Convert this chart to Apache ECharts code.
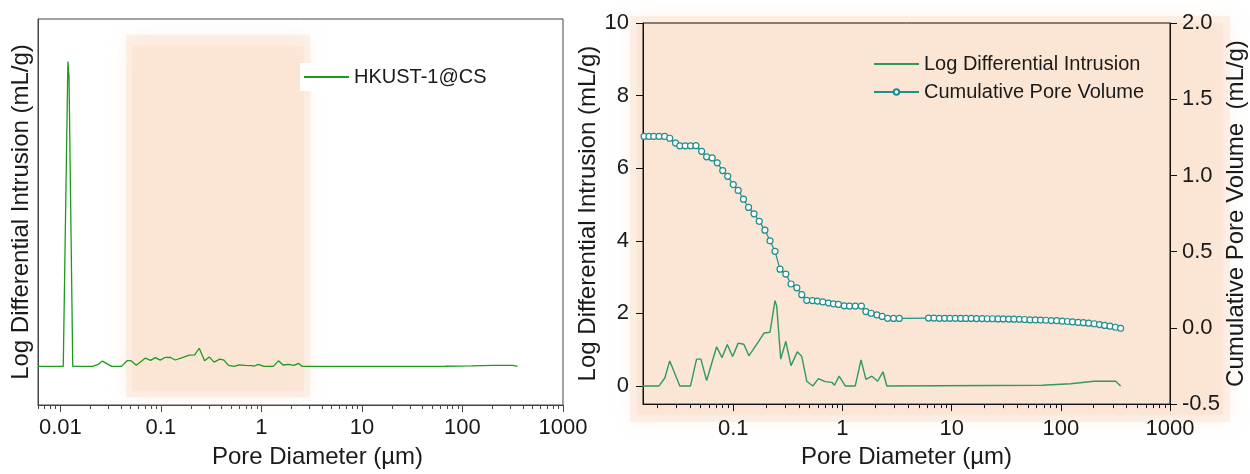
<!DOCTYPE html>
<html><head><meta charset="utf-8">
<script src="https://cdn.jsdelivr.net/npm/echarts@6/dist/echarts.min.js"></script>
<style>html,body{margin:0;padding:0;background:#fff}#c{width:1250px;height:474px}</style>
</head><body><div id="c"></div>
<script>
// Pore diameter (µm) and log differential intrusion (mL/g)
const diameterIntrusion = [0.006, 0.0107, 0.0119, 0.0122, 0.0133, 0.0209, 0.0236, 0.0262, 0.0324, 0.0406,
  0.0461, 0.0505, 0.057, 0.0704, 0.0788, 0.0881, 0.0987, 0.111, 0.125, 0.139,
  0.169, 0.192, 0.217, 0.241, 0.25, 0.272, 0.303, 0.338, 0.386, 0.424,
  0.471, 0.535, 0.602, 0.693, 0.80, 0.845, 0.933, 1.06, 1.31, 1.48,
  1.64, 1.86, 2.1, 2.35, 2.55, 67.4, 123, 201, 318, 353];
const logDiffIntrusion = [0, 0, 39.5, 37.6, 0, 0, 0.22, 0.69, 0, 0,
  0.74, 0.74, 0.15, 1.08, 0.78, 1.14, 0.81, 1.18, 1.15, 0.83,
  1.21, 1.46, 1.48, 2.35, 2.2, 0.74, 1.23, 0.56, 0.94, 0.81,
  0.13, 0, 0.2, 0.12, 0.1, 0.02, 0.27, 0, 0, 0.72,
  0.18, 0.27, 0.13, 0.39, 0, 0.02, 0.06, 0.13, 0.13, 0];

// Pore diameter (µm) and cumulative pore volume (mL/g)
const diameterCumulative = [0.01525, 0.0169, 0.0187, 0.0209, 0.0235, 0.0262, 0.0296, 0.0324, 0.0363, 0.0406,
  0.0455, 0.0513, 0.057, 0.0641, 0.0713, 0.080, 0.0889, 0.1, 0.111, 0.124,
  0.138, 0.155, 0.173, 0.195, 0.217, 0.241, 0.268, 0.303, 0.338, 0.382,
  0.424, 0.471, 0.531, 0.590, 0.661, 0.745, 0.827, 0.918, 1.04, 1.16,
  1.31, 1.49, 1.64, 1.83, 2.07, 2.31, 2.59, 2.94, 3.31,
  6.15, 6.89, 7.71, 8.63, 9.64, 10.8, 12.1, 13.5, 15.1, 16.9,
  19.0, 21.2, 23.7, 26.6, 29.7, 33.3, 37.2, 41.7, 46.6, 52.2,
  58.4, 65.3, 73.1, 81.8, 91.6, 103, 115, 128, 144, 161,
  180, 202, 226, 252, 282, 316, 353];
const cumulativeVolume = [1.256, 1.256, 1.256, 1.256, 1.256, 1.244, 1.212, 1.194, 1.194, 1.194,
  1.195, 1.158, 1.122, 1.115, 1.083, 1.032, 0.994, 0.940, 0.902, 0.844,
  0.790, 0.748, 0.699, 0.641, 0.571, 0.502, 0.385, 0.353, 0.288, 0.263,
  0.218, 0.181, 0.179, 0.176, 0.170, 0.163, 0.158, 0.154, 0.145, 0.143,
  0.143, 0.143, 0.107, 0.096, 0.085, 0.075, 0.063, 0.062, 0.062,
  0.064, 0.064, 0.063, 0.063, 0.063, 0.063, 0.062, 0.062, 0.062, 0.061,
  0.061, 0.060, 0.060, 0.059, 0.059, 0.058, 0.057, 0.056, 0.055, 0.053,
  0.052, 0.051, 0.050, 0.048, 0.047, 0.044, 0.042, 0.039, 0.036, 0.034,
  0.031, 0.027, 0.022, 0.016, 0.011, 0.004, -0.003];

const leftMajorTicks = [0.01, 0.1, 1, 10, 100, 1000];
const rightMajorTicks = [0.1, 1, 10, 100, 1000];
const leftYTicks = [0, 2, 4, 6, 8, 10];
// highlighted pore range (µm), soft-edged: outer, core
const shadeX = [[0.045, 3.05], [0.052, 2.65]];
const shadeY = [[43, -4], [41.5, -3.2]];

function minorTicks(lo, hi) {
  const out = [];
  for (let e = -3; e <= 3; e++) {
    for (let m = 2; m <= 9; m++) {
      const v = +(m * Math.pow(10, e)).toPrecision(3);
      if (v >= lo && v <= hi) out.push(v);
    }
  }
  return out;
}
const leftMinor = minorTicks(0.006, 1000);
const rightMinor = minorTicks(0.0149, 1000);

const FONT = 'Liberation Sans, Arial, sans-serif';
const TXT = '#1a1a1a';
const SHADE_OUTER = 'rgba(251,228,211,0.5)';
const SHADE_CORE = 'rgba(251,228,211,0.7)';
const fmt = v => String(+(+v).toPrecision(3));
const noSymbol = {opacity: 0, borderWidth: 0};

const bgRects = [[630, 16, 600, 406, SHADE_OUTER], [637, 23, 586, 392, SHADE_CORE]];

const chart = echarts.init(document.getElementById('c'), null, {renderer: 'canvas'});
chart.setOption({
  animation: false,
  textStyle: {fontFamily: FONT},
  graphic: bgRects.map(r => ({
    type: 'rect', z: -10, silent: true,
    shape: {x: r[0], y: r[1], width: r[2], height: r[3]},
    style: {fill: r[4], shadowBlur: 18, shadowColor: r[4]}
  })),
  grid: [
    {left: 38, top: 19, width: 525, height: 390, show: true, borderColor: '#444', borderWidth: 1, backgroundColor: 'transparent'},
    {left: 643, top: 23, width: 527, height: 390, show: true, borderColor: '#111', borderWidth: 1, backgroundColor: 'transparent'}
  ],
  legend: [
    {data: [{name: 'HKUST-1@CS', itemStyle: noSymbol}], orient: 'vertical', left: 300, top: 63,
     itemWidth: 45, itemHeight: 7,
     backgroundColor: '#fff', padding: [4, 10, 4, 3], textStyle: {fontSize: 20, color: TXT, fontFamily: FONT}},
    {data: [{name: 'Log Differential Intrusion', itemStyle: noSymbol}, {name: 'Cumulative Pore Volume'}],
     orient: 'vertical', left: 873, top: 54,
     itemGap: 8, itemWidth: 45, itemHeight: 7, padding: 0, textStyle: {fontSize: 20, color: TXT, fontFamily: FONT}}
  ],
  xAxis: [
    {gridIndex: 0, type: 'log', logBase: 10, min: 0.006, max: 1000,
     axisLine: {onZero: false, lineStyle: {color: '#444'}},
     axisTick: {inside: false, length: 7, customValues: leftMajorTicks, lineStyle: {color: '#444'}},
     axisLabel: {customValues: leftMajorTicks, fontSize: 22, margin: 12, color: TXT, formatter: fmt},
     splitLine: {show: false},
     name: 'Pore Diameter (µm)', nameLocation: 'middle', nameGap: 40,
     nameTextStyle: {fontSize: 24, color: TXT, padding: [0, 0, 0, 34]}},
    {gridIndex: 0, type: 'log', logBase: 10, min: 0.006, max: 1000, position: 'bottom',
     axisLine: {show: false, onZero: false},
     axisTick: {inside: false, length: 4, customValues: leftMinor, lineStyle: {color: '#444'}},
     axisLabel: {show: false, customValues: leftMinor}, splitLine: {show: false}},
    {gridIndex: 1, type: 'log', logBase: 10, min: 0.0149, max: 1000,
     axisLine: {onZero: false, lineStyle: {color: '#111'}},
     axisTick: {inside: false, length: 7, customValues: rightMajorTicks, lineStyle: {color: '#111'}},
     axisLabel: {customValues: rightMajorTicks, fontSize: 22, margin: 14, color: TXT, formatter: fmt},
     splitLine: {show: false},
     name: 'Pore Diameter (µm)', nameLocation: 'middle', nameGap: 38,
     nameTextStyle: {fontSize: 24, color: TXT}},
    {gridIndex: 1, type: 'log', logBase: 10, min: 0.0149, max: 1000, position: 'bottom',
     axisLine: {show: false, onZero: false},
     axisTick: {inside: false, length: 4, customValues: rightMinor, lineStyle: {color: '#111'}},
     axisLabel: {show: false, customValues: rightMinor}, splitLine: {show: false}}
  ],
  yAxis: [
    {gridIndex: 0, type: 'value', min: -5, max: 45,
     axisLine: {show: true, onZero: false, lineStyle: {color: '#444'}}, axisTick: {show: false}, axisLabel: {show: false},
     splitLine: {show: false},
     name: 'Log Differential Intrusion (mL/g)', nameLocation: 'middle', nameGap: 5,
     nameTextStyle: {fontSize: 24, color: TXT}},
    {gridIndex: 1, type: 'value', min: -0.5, max: 10, position: 'left',
     axisLine: {show: true, onZero: false, lineStyle: {color: '#111'}},
     axisTick: {show: true, inside: false, length: 7, customValues: leftYTicks},
     axisLabel: {customValues: leftYTicks, fontSize: 22, margin: 14, color: TXT},
     splitLine: {show: false},
     name: 'Log Differential Intrusion (mL/g)', nameLocation: 'middle', nameGap: 27,
     nameTextStyle: {fontSize: 24, color: TXT}},
    {gridIndex: 1, type: 'value', min: -0.5, max: 2, interval: 0.5, position: 'right',
     axisLine: {show: true, onZero: false, lineStyle: {color: '#111'}},
     axisTick: {show: true, inside: false, length: 7},
     axisLabel: {fontSize: 22, margin: 12, color: TXT, formatter: v => (+v).toFixed(1)},
     splitLine: {show: false},
     name: 'Cumulative Pore Volume  (mL/g)', nameLocation: 'middle', nameGap: 54,
     nameTextStyle: {fontSize: 24, color: TXT}}
  ],
  series: [
    {type: 'line', name: 'HKUST-1@CS', xAxisIndex: 0, yAxisIndex: 0, symbol: 'none',
     data: diameterIntrusion.map((d, i) => [d, logDiffIntrusion[i]]),
     lineStyle: {color: '#1E9A1E', width: 1.3}, itemStyle: {color: '#1E9A1E'},
     markArea: {silent: true,
       data: shadeX.map((xr, k) => {
         const c = k === 0 ? SHADE_OUTER : SHADE_CORE;
         return [{coord: [xr[0], shadeY[k][0]], itemStyle: {color: c, shadowBlur: 18, shadowColor: c}},
                 {coord: [xr[1], shadeY[k][1]]}];
       })}},
    {type: 'line', name: 'Log Differential Intrusion', xAxisIndex: 2, yAxisIndex: 1, symbol: 'none',
     data: diameterIntrusion.map((d, i) => [d, logDiffIntrusion[i]]),
     lineStyle: {color: '#2E9A5C', width: 1.4}, itemStyle: {color: '#2E9A5C'}, clip: true},
    {type: 'line', name: 'Cumulative Pore Volume', xAxisIndex: 2, yAxisIndex: 2,
     symbol: 'circle', symbolSize: 6, showAllSymbol: true,
     data: diameterCumulative.map((d, i) => [d, cumulativeVolume[i]]),
     lineStyle: {color: '#1E8E8E', width: 1.2},
     itemStyle: {color: '#fff', borderColor: '#1E8E8E', borderWidth: 1.2}}
  ]
});
</script></body></html>
